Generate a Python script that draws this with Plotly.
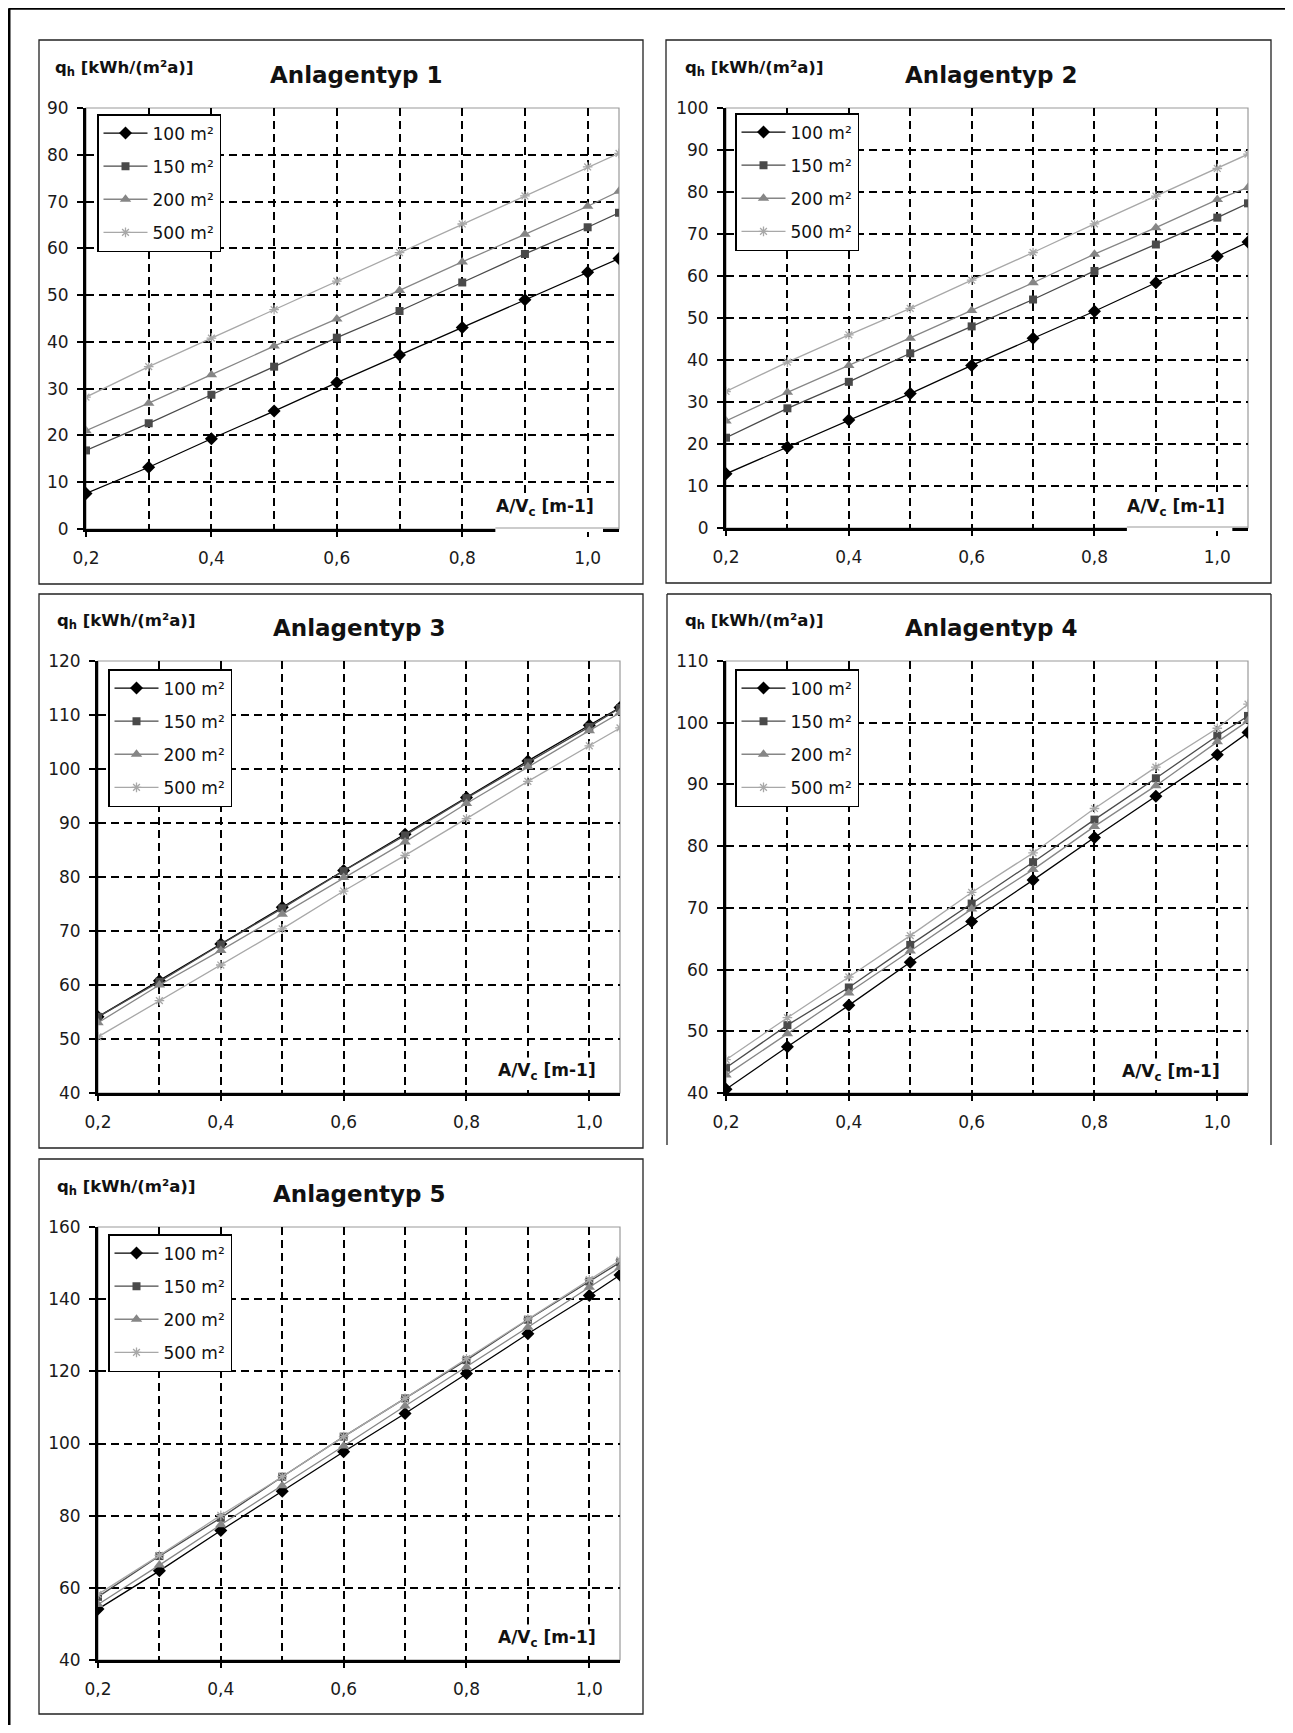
import plotly.graph_objects as go

# ---------------- data ----------------
A_V = [0.2, 0.3, 0.4, 0.5, 0.6, 0.7, 0.8, 0.9, 1.0, 1.05]
SERIES_NAMES = ["100 m²", "150 m²", "200 m²", "500 m²"]
PANEL_TITLES = ["Anlagentyp 1", "Anlagentyp 2", "Anlagentyp 3", "Anlagentyp 4", "Anlagentyp 5"]
Y_TITLE = "q<sub>h</sub> [kWh/(m²a)]"
X_TITLE = "A/V<sub>c</sub> [m-1]"

typ1_100 = [7.6, 13.2, 19.3, 25.2, 31.3, 37.2, 43.1, 49.0, 54.9, 57.8]
typ1_150 = [16.8, 22.6, 28.7, 34.7, 40.9, 46.6, 52.7, 58.8, 64.5, 67.6]
typ1_200 = [21.0, 26.9, 33.0, 39.1, 44.9, 51.0, 57.1, 63.0, 69.0, 72.2]
typ1_500 = [28.2, 34.7, 40.8, 46.9, 53.0, 59.1, 65.2, 71.2, 77.4, 80.3]

typ2_100 = [12.9, 19.3, 25.7, 32.0, 38.7, 45.2, 51.6, 58.4, 64.7, 68.1]
typ2_150 = [21.5, 28.5, 34.8, 41.6, 48.0, 54.4, 61.2, 67.5, 73.9, 77.3]
typ2_200 = [25.5, 32.3, 38.7, 45.2, 51.8, 58.4, 65.2, 71.5, 78.2, 81.1]
typ2_500 = [32.5, 39.5, 46.0, 52.3, 59.0, 65.6, 72.4, 79.0, 85.6, 89.0]

typ3_100 = [54.1, 60.8, 67.6, 74.4, 81.2, 87.9, 94.7, 101.5, 108.1, 111.4]
typ3_150 = [54.1, 60.6, 67.5, 74.2, 81.1, 87.7, 94.6, 101.2, 107.8, 111.3]
typ3_200 = [53.0, 60.0, 66.4, 73.1, 79.9, 86.5, 93.6, 100.4, 107.1, 110.4]
typ3_500 = [50.4, 57.1, 63.7, 70.4, 77.4, 84.0, 90.8, 97.7, 104.3, 107.6]

typ4_100 = [40.6, 47.5, 54.2, 61.2, 67.8, 74.5, 81.4, 88.1, 94.8, 98.4]
typ4_150 = [44.1, 51.0, 57.1, 64.0, 70.7, 77.4, 84.3, 91.0, 97.9, 101.1]
typ4_200 = [42.9, 49.6, 56.2, 63.0, 69.8, 76.2, 83.2, 89.8, 96.9, 100.3]
typ4_500 = [45.4, 52.2, 58.8, 65.5, 72.5, 78.9, 86.1, 92.8, 99.1, 103.0]

typ5_100 = [54.1, 64.7, 75.9, 86.8, 97.7, 108.3, 119.4, 130.4, 141.0, 146.7]
typ5_150 = [57.5, 68.8, 79.4, 90.8, 101.9, 112.5, 123.1, 134.3, 144.9, 150.2]
typ5_200 = [55.4, 66.3, 77.5, 88.3, 99.3, 110.4, 121.2, 132.2, 143.3, 148.8]
typ5_500 = [58.2, 69.0, 80.1, 90.8, 101.9, 112.5, 123.5, 134.5, 145.4, 150.8]

PANEL_DATA = [
    [typ1_100, typ1_150, typ1_200, typ1_500],
    [typ2_100, typ2_150, typ2_200, typ2_500],
    [typ3_100, typ3_150, typ3_200, typ3_500],
    [typ4_100, typ4_150, typ4_200, typ4_500],
    [typ5_100, typ5_150, typ5_200, typ5_500],
]
Y_RANGES = [(0, 90, 10), (0, 100, 10), (40, 120, 10), (40, 110, 10), (40, 160, 20)]

# ---------------- styles / layout ----------------
STYLES = [
    dict(color="#000000", symbol="diamond", size=10),
    dict(color="#4a4a4a", symbol="square", size=8),
    dict(color="#868686", symbol="triangle-up", size=10),
    dict(color="#a8a8a8", symbol="asterisk-open", size=8),
]

W, H = 1285, 1717
OFF = 8  # browser body margin


def px(X):
    return (X - OFF) / W


def py(Y):
    return 1 - (Y - OFF) / H


PANELS = [
    dict(box=(39, 40, 643, 584), plot=(86, 108, 619, 529), legend=(97, 114), title=(356, 75),
         ytitle=(53, 68), xl=(597, 508), gap=True, open_bottom=False),
    dict(box=(666, 40, 1271, 583), plot=(726, 108, 1248, 528), legend=(735, 113), title=(991, 75),
         ytitle=(683, 68), xl=(1228, 508), gap=True, open_bottom=False),
    dict(box=(39, 594, 643, 1148), plot=(98, 661, 620, 1093), legend=(108, 669), title=(359, 628),
         ytitle=(55, 622), xl=(599, 1071), gap=False, open_bottom=False),
    dict(box=(667, 594, 1271, 1145), plot=(726, 661, 1248, 1093), legend=(735, 669), title=(991, 628),
         ytitle=(683, 622), xl=(1223, 1072), gap=False, open_bottom=True),
    dict(box=(39, 1159, 643, 1714), plot=(98, 1227, 620, 1660), legend=(108, 1234), title=(359, 1194),
         ytitle=(55, 1187), xl=(599, 1638), gap=False, open_bottom=False),
]

FONT = "DejaVu Sans"
GRID_DASH = "8px,5px"
GRID_W = 1.5

fig = go.Figure()
layout = dict(
    width=W, height=H, margin=dict(l=0, r=0, t=0, b=0, autoexpand=False),
    paper_bgcolor="white", plot_bgcolor="white",
    separators=", ", font=dict(family=FONT, color="#111111"),
    hovermode=False, showlegend=True,
)
shapes = []
annotations = []

for i, (panel, data, yr) in enumerate(zip(PANELS, PANEL_DATA, Y_RANGES)):
    n = i + 1
    sfx = "" if n == 1 else str(n)
    xa, ya = f"x{sfx}", f"y{sfx}"
    leg = "legend" if n == 1 else f"legend{n}"

    for k, (name, vals, st) in enumerate(zip(SERIES_NAMES, data, STYLES)):
        fig.add_trace(go.Scatter(
            x=A_V, y=vals, name=name, mode="lines+markers",
            xaxis=xa, yaxis=ya, legend=leg, legendgroup=f"p{n}s{k}",
            line=dict(color=st["color"], width=1.3),
            marker=dict(symbol=st["symbol"], size=st["size"], color=st["color"],
                        line=dict(color=st["color"], width=1.3 if k == 3 else 0)),
        ))

    x0, y0, x1, y1 = panel["plot"]
    lo, hi, dt = yr
    layout[f"xaxis{sfx}"] = dict(
        domain=[px(x0), px(x1)], anchor=ya, range=[0.2, 1.05], automargin=False,
        tick0=0.2, dtick=0.2, tickformat=".1f",
        showline=True, linecolor="black", linewidth=3,
        ticks="outside", ticklen=5, tickwidth=2, tickcolor="black",
        showgrid=True, gridcolor="black", gridwidth=GRID_W, griddash=GRID_DASH,
        minor=dict(tick0=0.2, dtick=0.1, showgrid=True, gridcolor="black",
                   gridwidth=GRID_W, griddash=GRID_DASH, ticks=""),
        zeroline=False, fixedrange=True,
        tickfont=dict(family=FONT, size=17, color="#1a1a1a"),
        ticklabelstandoff=7,
    )
    layout[f"yaxis{sfx}"] = dict(
        domain=[py(y1), py(y0)], anchor=xa, range=[lo, hi], automargin=False,
        tick0=lo, dtick=dt,
        showline=True, linecolor="black", linewidth=3,
        ticks="outside", ticklen=6, tickwidth=2, tickcolor="black",
        showgrid=True, gridcolor="black", gridwidth=GRID_W, griddash=GRID_DASH,
        zeroline=False, fixedrange=True,
        tickfont=dict(family=FONT, size=17, color="#1a1a1a"),
        ticklabelstandoff=5,
    )
    lx, ly = panel["legend"]
    layout[leg] = dict(
        x=px(lx), y=py(ly), xanchor="left", yanchor="top",
        bgcolor="white", bordercolor="black", borderwidth=1.5,
        font=dict(family=FONT, size=17, color="#111111"),
        tracegroupgap=8, itemwidth=44, itemclick=False, itemdoubleclick=False,
    )

    # grey plot-area border
    shapes.append(dict(type="rect", xref=f"{xa} domain", yref=f"{ya} domain",
                       x0=0, x1=1, y0=0, y1=1, layer="below",
                       line=dict(color="#9a9a9a", width=1.2)))

    # panel frame
    bx0, by0, bx1, by1 = panel["box"]
    if panel["open_bottom"]:
        for (ax0, ay0, ax1, ay1) in [(bx0, by1, bx0, by0), (bx0, by0, bx1, by0), (bx1, by0, bx1, by1)]:
            shapes.append(dict(type="line", xref="paper", yref="paper",
                               x0=px(ax0), y0=py(ay0), x1=px(ax1), y1=py(ay1),
                               line=dict(color="#222222", width=1.3)))
    else:
        shapes.append(dict(type="rect", xref="paper", yref="paper",
                           x0=px(bx0), y0=py(by1), x1=px(bx1), y1=py(by0),
                           line=dict(color="#222222", width=1.3)))

    # white gap in the axis under the x label (panels 1, 2)
    if panel["gap"]:
        gx0 = x0 + 0.768 * (x1 - x0)
        gx1 = x0 + 0.97 * (x1 - x0)
        shapes.append(dict(type="rect", xref="paper", yref="paper", layer="above",
                           x0=px(gx0), x1=px(gx1), y0=py(y1 + 3), y1=py(y1 - 36),
                           fillcolor="white", line=dict(width=0)))
        shapes.append(dict(type="line", xref="paper", yref="paper", layer="above",
                           x0=px(gx0), x1=px(x1), y0=py(y1 - 1), y1=py(y1 - 1),
                           line=dict(color="#9a9a9a", width=1.2)))

    tx, ty = panel["title"]
    annotations.append(dict(text=f"<b>{PANEL_TITLES[i]}</b>", xref="paper", yref="paper",
                            x=px(tx), y=py(ty), xanchor="center", yanchor="middle",
                            showarrow=False, font=dict(family=FONT, size=23, color="#111111")))
    qx, qy = panel["ytitle"]
    annotations.append(dict(text=f"<b>{Y_TITLE}</b>", xref="paper", yref="paper",
                            x=px(qx), y=py(qy), xanchor="left", yanchor="middle",
                            showarrow=False, font=dict(family=FONT, size=16.5, color="#111111")))
    ax_, ay_ = panel["xl"]
    annotations.append(dict(text=f"<b>{X_TITLE}</b>", xref="paper", yref="paper",
                            x=px(ax_), y=py(ay_), xanchor="right", yanchor="middle",
                            showarrow=False, bgcolor="white", borderpad=2,
                            font=dict(family=FONT, size=17, color="#111111")))

# outer frame (left, top, right)
for (ax0, ay0, ax1, ay1) in [(9, 1733, 9, 8.2), (9, 8.2, 1290, 8.2), (1290, 8.2, 1290, 1733)]:
    shapes.append(dict(type="line", xref="paper", yref="paper",
                       x0=px(ax0), y0=py(ay0), x1=px(ax1), y1=py(ay1),
                       line=dict(color="black", width=3)))

layout["shapes"] = shapes
layout["annotations"] = annotations
fig.update_layout(**layout)

fig.write_html("out.html")
